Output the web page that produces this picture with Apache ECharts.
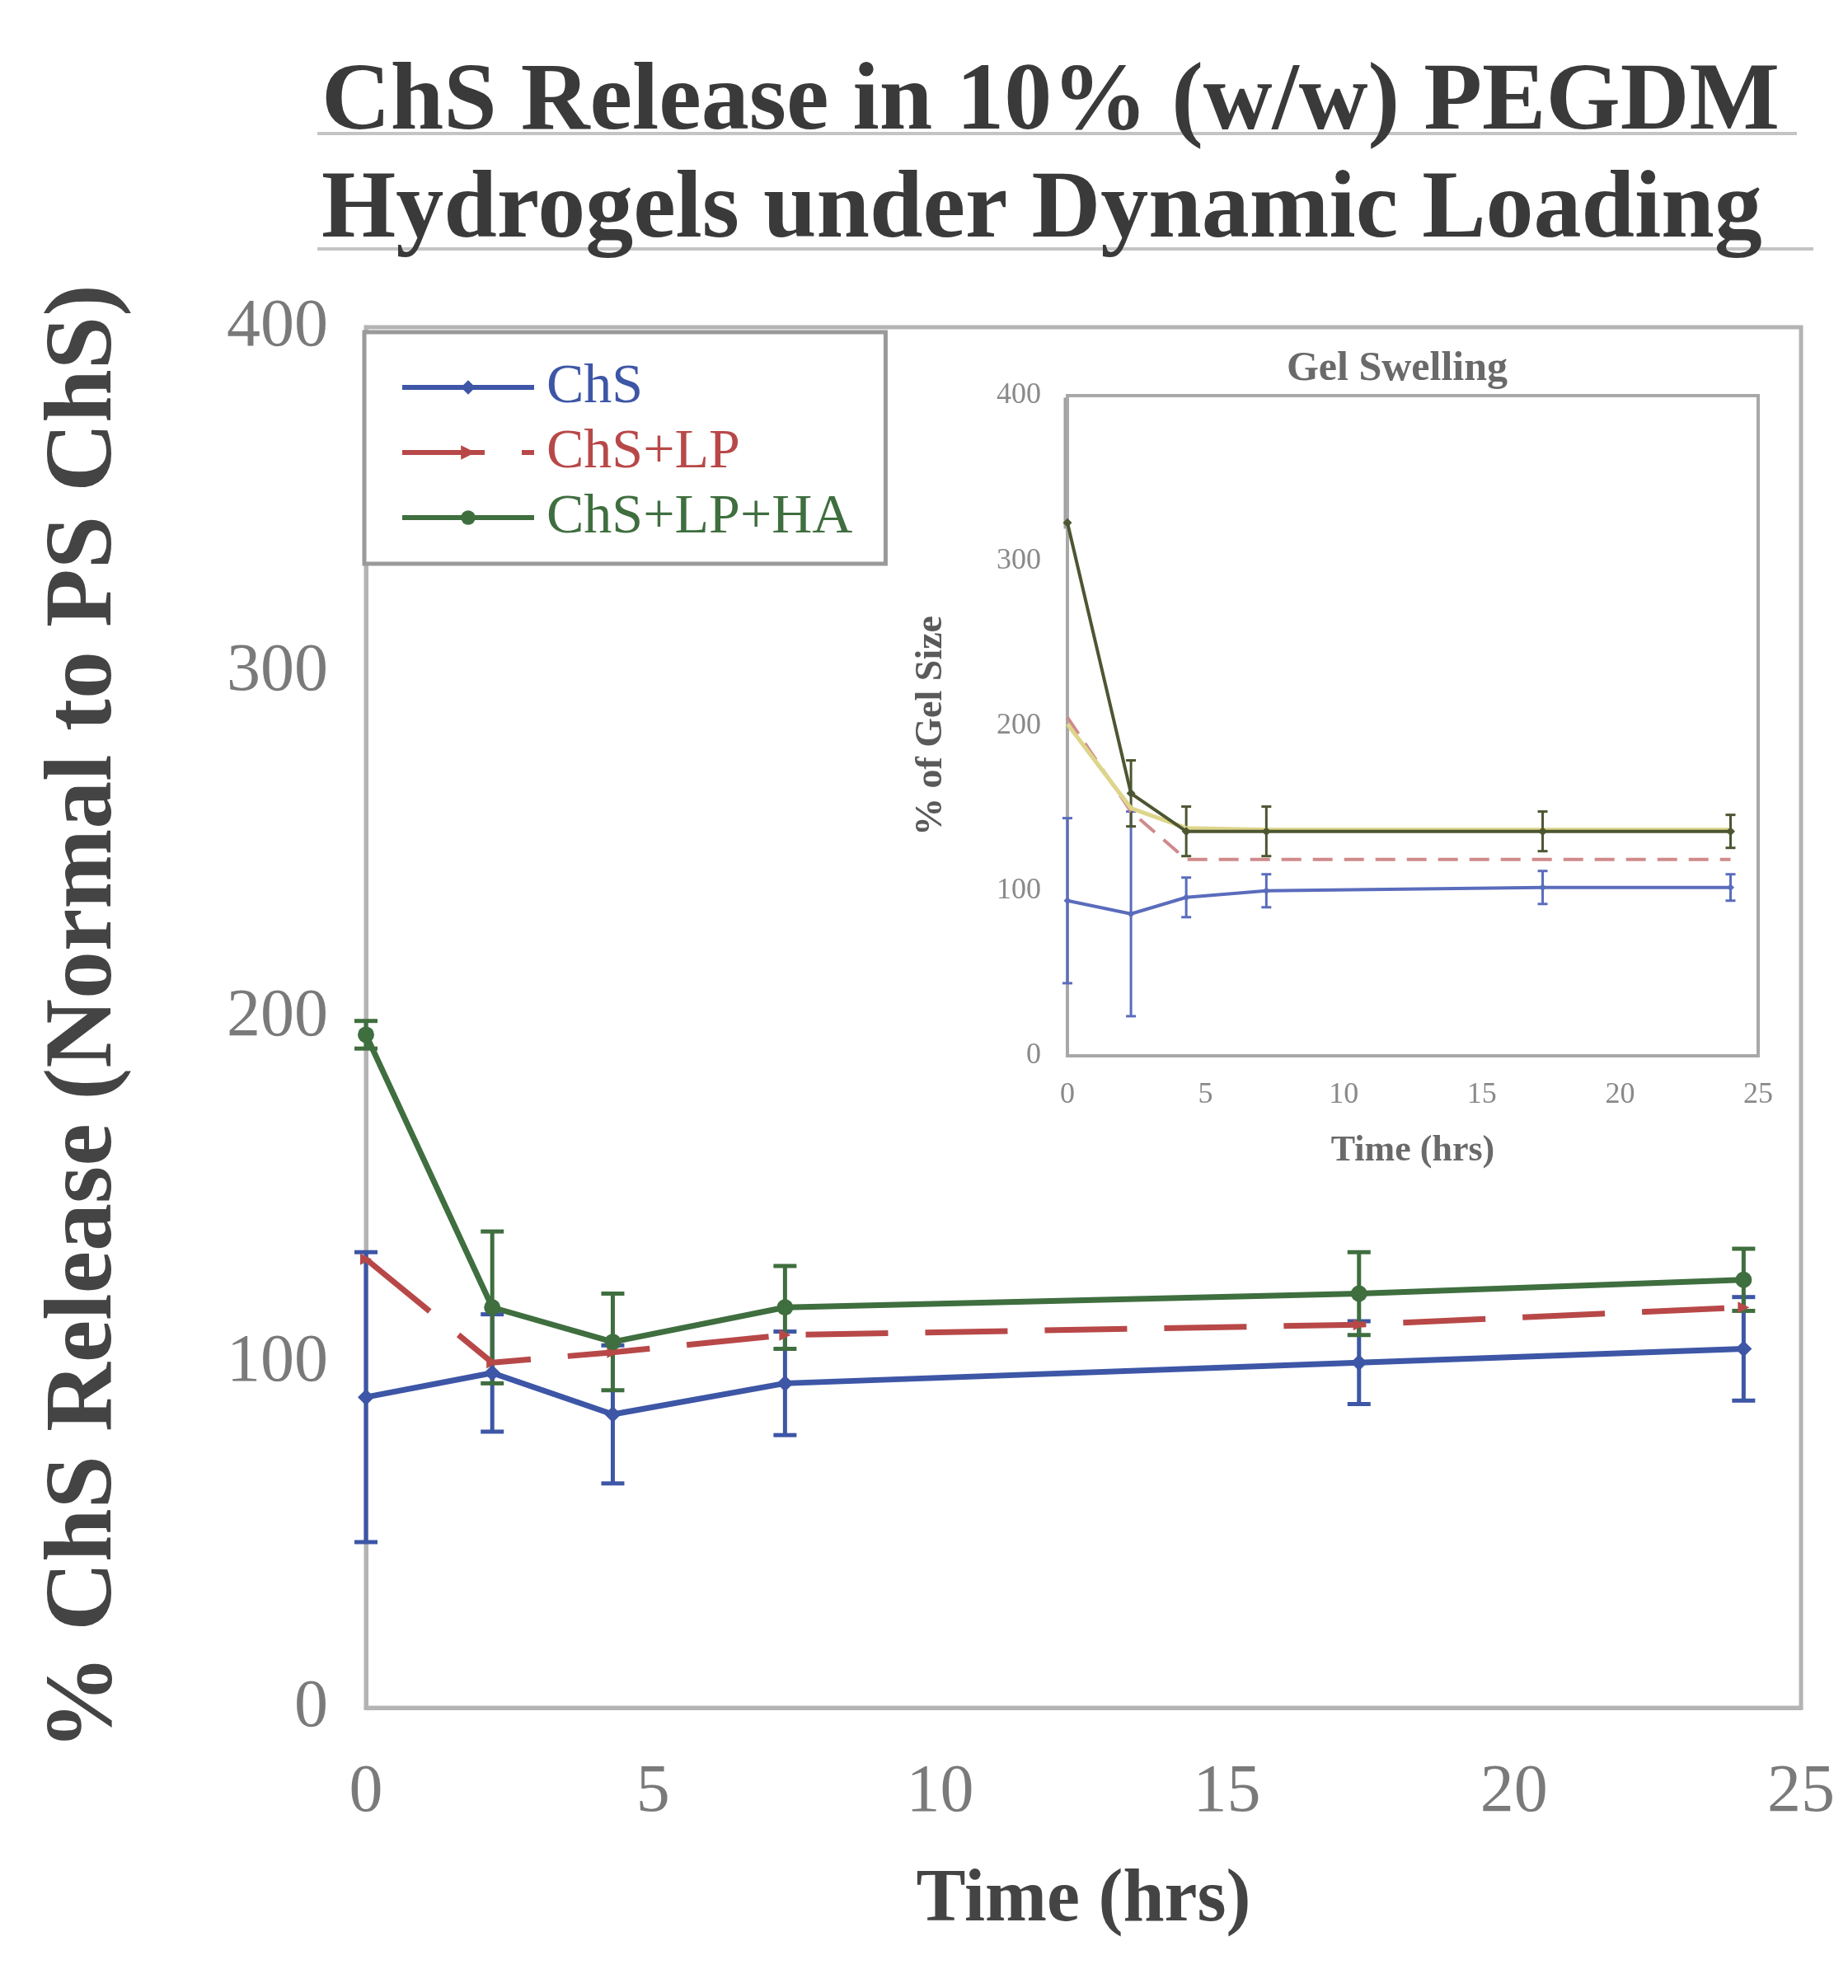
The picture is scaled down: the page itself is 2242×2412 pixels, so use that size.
<!DOCTYPE html>
<html><head><meta charset="utf-8">
<script src="https://cdn.jsdelivr.net/npm/echarts@6/dist/echarts.min.js"></script>
<style>html,body{margin:0;padding:0;background:#fff}#c{width:2242px;height:2412px}</style>
</head><body><div id="c"></div>
<script>
// ---- main chart data ----
const timeHrs = [0, 2.2, 4.3, 7.3, 17.3, 24];
const chs = [90, 97, 85, 94, 100, 104];
const chsErr = [42, 17, 20, 15, 12, 15];
const chsLp = [130, 100, 103, 108, 111, 116];
const chsLpHa = [195, 116, 106, 116, 120, 124];
const chsLpHaErr = [4, 22, 14, 12, 12, 9];
const xTicks = [0, 5, 10, 15, 20, 25];
const yTicks = [0, 100, 200, 300, 400];
// ---- inset (Gel Swelling) data ----
const insetTime = [0, 2.3, 4.3, 7.2, 17.2, 24];
const insetChs = [94, 86, 96, 100, 102, 102];
const insetChsErr = [50, 62, 12, 10, 10, 8];
const insetChsLp = [205, 148, 119, 119, 119, 119];
const insetChsLpHa = [323, 159, 136, 136, 136, 136];
const insetChsLpHaErr = [0, 20, 15, 15, 12, 10];
const insetPegdm = [201, 150, 138, 137, 137, 137];
const insetXTicks = [0, 5, 10, 15, 20, 25];
const insetYTicks = [0, 100, 200, 300, 400];
const legendNames = ['ChS', 'ChS+LP', 'ChS+LP+HA'];
const insetLegendNames = ['ChS', 'ChS+LP', 'ChS+LP+HA', 'PEGDM'];

const SERIF = '"Liberation Serif", "DejaVu Serif", serif';
const C_BLUE = '#3d56a6', C_RED = '#b84848', C_GREEN = '#3f6e3f';
const I_BLUE = '#5a6cbc', I_RED = '#d08a8a', I_DARK = '#4c5632', I_YEL = '#ddd58a';

const pairs = (xs, ys) => xs.map((x, i) => [x, ys[i]]);
const errData = (xs, ys, es) => xs.map((x, i) => [x, ys[i] - es[i], ys[i] + es[i]]).filter((d, i) => es[i] > 0);

function errSeries(name, data, color, xi, yi, cap, w, z) {
  return {
    type: 'custom', name: name + '_err', xAxisIndex: xi, yAxisIndex: yi, z: z,
    data: data, encode: { x: 0, y: [1, 2] }, silent: true,
    renderItem: function (params, api) {
      const x = api.value(0);
      const lo = api.coord([x, api.value(1)]);
      const hi = api.coord([x, api.value(2)]);
      const st = { stroke: color, lineWidth: w };
      return { type: 'group', children: [
        { type: 'line', shape: { x1: lo[0], y1: lo[1], x2: hi[0], y2: hi[1] }, style: st },
        { type: 'line', shape: { x1: lo[0] - cap, y1: lo[1], x2: lo[0] + cap, y2: lo[1] }, style: st },
        { type: 'line', shape: { x1: hi[0] - cap, y1: hi[1], x2: hi[0] + cap, y2: hi[1] }, style: st }
      ]};
    }
  };
}

const chart = echarts.init(document.getElementById('c'), null, { renderer: 'canvas' });
const axisLbl = { fontFamily: SERIF, fontSize: 82, color: '#7a7a7a' };
const inLbl = { fontFamily: SERIF, fontSize: 36, color: '#8a8a8a' };

chart.setOption({
  backgroundColor: '#ffffff',
  animation: false,
  title: [
    { text: 'ChS Release in 10% (w/w) PEGDM\nHydrogels under Dynamic Loading', left: 385, top: 56,
      textStyle: { fontFamily: SERIF, fontSize: 116, fontWeight: 'bold', color: '#3a3a3a', lineHeight: 131 } },
    { text: 'Gel Swelling', left: 1690, top: 418, textAlign: 'center',
      textStyle: { fontFamily: SERIF, fontSize: 50, fontWeight: 'bold', color: '#6a6a6a' } }
  ],
  graphic: [
    { type: 'line', shape: { x1: 385, y1: 162, x2: 2180, y2: 162 }, style: { stroke: '#c4c4c4', lineWidth: 4 }, z: -1 },
    { type: 'line', shape: { x1: 385, y1: 302, x2: 2200, y2: 302 }, style: { stroke: '#c4c4c4', lineWidth: 4 }, z: -1 }
  ],
  legend: [
    { data: legendNames.map((n, i) => ({ name: n, textStyle: { color: [C_BLUE, C_RED, C_GREEN][i] } })),
      orient: 'vertical', left: 442, top: 403, itemWidth: 160, itemHeight: 22, itemGap: 9,
      lineStyle: { width: 6 },
      padding: [32, 40, 21, 43], borderColor: '#9a9a9a', borderWidth: 5, backgroundColor: '#ffffff',
      textStyle: { fontFamily: SERIF, fontSize: 68, lineHeight: 70, padding: [0, 0, 0, 10] } },
    { data: insetLegendNames.map(n => 'inset:' + n), formatter: n => n.replace('inset:', ''),
      orient: 'vertical', left: 1292, top: 484, itemWidth: 85, itemHeight: 10, itemGap: 5,
      lineStyle: { width: 4 },
      padding: [23, 30, 14, 25], borderColor: '#a0a0a0', borderWidth: 3, backgroundColor: '#ffffff',
      textStyle: { fontFamily: SERIF, fontSize: 26, lineHeight: 26, color: '#9a9a9a' } }
  ],
  grid: [
    { left: 444, top: 397, width: 1741, height: 1675, show: true, borderColor: '#b4b4b4', borderWidth: 5, backgroundColor: 'transparent' },
    { left: 1295, top: 480, width: 838, height: 801, show: true, borderColor: '#a8a8a8', borderWidth: 4, backgroundColor: '#ffffff', z: 5 }
  ],
  xAxis: [
    { type: 'value', gridIndex: 0, min: xTicks[0], max: xTicks[xTicks.length - 1], interval: xTicks[1] - xTicks[0],
      name: 'Time (hrs)', nameLocation: 'middle', nameGap: 190,
      nameTextStyle: { fontFamily: SERIF, fontSize: 90, fontWeight: 'bold', color: '#444' },
      axisLine: { show: true, lineStyle: { color: '#b4b4b4', width: 5 } }, axisTick: { show: false },
      splitLine: { show: false }, axisLabel: Object.assign({ margin: 62 }, axisLbl) },
    { type: 'value', gridIndex: 1, min: insetXTicks[0], max: insetXTicks[insetXTicks.length - 1], interval: insetXTicks[1] - insetXTicks[0],
      name: 'Time (hrs)', nameLocation: 'middle', nameGap: 94,
      nameTextStyle: { fontFamily: SERIF, fontSize: 44, fontWeight: 'bold', color: '#6a6a6a' },
      axisLine: { show: true, lineStyle: { color: '#a8a8a8', width: 4 } },
      axisTick: { show: true, inside: true, length: 8, lineStyle: { color: '#a8a8a8', width: 2 } },
      minorTick: { show: true, splitNumber: 2, length: 5, lineStyle: { color: '#c8c8c8' } },
      splitLine: { show: false }, axisLabel: Object.assign({ margin: 30 }, inLbl) }
  ],
  yAxis: [
    { type: 'value', gridIndex: 0, min: yTicks[0], max: yTicks[yTicks.length - 1], interval: yTicks[1] - yTicks[0],
      name: '% ChS Release (Normal to PS ChS)', nameLocation: 'middle', nameGap: 282,
      nameTextStyle: { fontFamily: SERIF, fontSize: 116, fontWeight: 'bold', color: '#444' },
      axisLine: { show: true, lineStyle: { color: '#b4b4b4', width: 5 } }, axisTick: { show: false },
      splitLine: { show: false }, axisLabel: Object.assign({ margin: 46 }, axisLbl) },
    { type: 'value', gridIndex: 1, min: insetYTicks[0], max: insetYTicks[insetYTicks.length - 1], interval: insetYTicks[1] - insetYTicks[0],
      name: '% of Gel Size', nameLocation: 'middle', nameGap: 142,
      nameTextStyle: { fontFamily: SERIF, fontSize: 46, fontWeight: 'bold', color: '#5a5a5a' },
      axisLine: { show: true, lineStyle: { color: '#a8a8a8', width: 4 } },
      axisTick: { show: true, inside: true, length: 8, lineStyle: { color: '#a8a8a8', width: 2 } },
      minorTick: { show: true, splitNumber: 2, length: 5, lineStyle: { color: '#c8c8c8' } },
      splitLine: { show: false }, axisLabel: Object.assign({ margin: 32 }, inLbl) }
  ],
  series: [
    errSeries('ChS', errData(timeHrs, chs, chsErr), C_BLUE, 0, 0, 14, 5, 3),
    errSeries('ChS+LP+HA', errData(timeHrs, chsLpHa, chsLpHaErr), C_GREEN, 0, 0, 14, 5, 3),
    { type: 'line', name: 'ChS', data: pairs(timeHrs, chs), xAxisIndex: 0, yAxisIndex: 0, z: 4,
      symbol: 'diamond', symbolSize: 20, itemStyle: { color: C_BLUE }, lineStyle: { color: C_BLUE, width: 7 } },
    { type: 'line', name: 'ChS+LP', data: pairs(timeHrs, chsLp), xAxisIndex: 0, yAxisIndex: 0, z: 4,
      symbol: 'triangle', symbolRotate: -90, symbolSize: 14, itemStyle: { color: C_RED },
      lineStyle: { color: C_RED, width: 7, type: [100, 45] } },
    { type: 'line', name: 'ChS+LP+HA', data: pairs(timeHrs, chsLpHa), xAxisIndex: 0, yAxisIndex: 0, z: 4,
      symbol: 'circle', symbolSize: 20, itemStyle: { color: C_GREEN }, lineStyle: { color: C_GREEN, width: 7 } },
    // inset
    errSeries('inset:ChS', errData(insetTime, insetChs, insetChsErr), I_BLUE, 1, 1, 6, 3, 8),
    errSeries('inset:ChS+LP+HA', errData(insetTime, insetChsLpHa, insetChsLpHaErr), I_DARK, 1, 1, 6, 3, 8),
    { type: 'line', name: 'inset:ChS', data: pairs(insetTime, insetChs), xAxisIndex: 1, yAxisIndex: 1, z: 9,
      symbol: 'diamond', symbolSize: 9, itemStyle: { color: I_BLUE }, lineStyle: { color: I_BLUE, width: 4 } },
    { type: 'line', name: 'inset:ChS+LP', data: pairs(insetTime, insetChsLp), xAxisIndex: 1, yAxisIndex: 1, z: 9,
      symbol: 'none', itemStyle: { color: I_RED }, lineStyle: { color: I_RED, width: 4, type: [24, 14] } },
    { type: 'line', name: 'inset:PEGDM', data: pairs(insetTime, insetPegdm), xAxisIndex: 1, yAxisIndex: 1, z: 9,
      symbol: 'none', itemStyle: { color: I_YEL }, lineStyle: { color: I_YEL, width: 5 } },
    { type: 'line', name: 'inset:ChS+LP+HA', data: pairs(insetTime, insetChsLpHa), xAxisIndex: 1, yAxisIndex: 1, z: 10,
      symbol: 'diamond', symbolSize: 11, itemStyle: { color: I_DARK }, lineStyle: { color: I_DARK, width: 4 } }
  ]
});
</script></body></html>
